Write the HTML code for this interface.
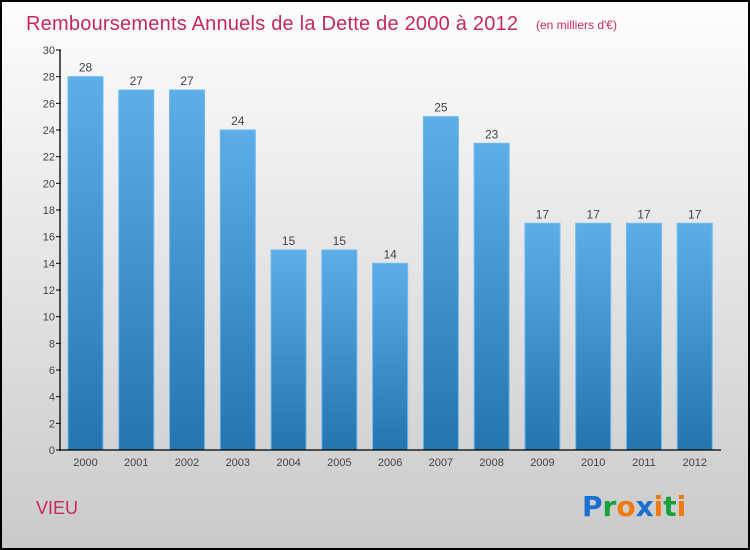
<!DOCTYPE html>
<html><head><meta charset="utf-8"><style>
body{margin:0;width:750px;height:550px;overflow:hidden}
svg{display:block;font-family:"Liberation Sans",sans-serif}
</style></head><body>
<svg id="c" width="750" height="550">
<defs>
<linearGradient id="bg" x1="0" y1="0" x2="0" y2="1"><stop offset="0" stop-color="#fdfdfd"/><stop offset="1" stop-color="#cacaca"/></linearGradient>
<linearGradient id="bar" x1="0" y1="0" x2="0" y2="1"><stop offset="0" stop-color="#5daee8"/><stop offset="1" stop-color="#2574b0"/></linearGradient>
</defs>
<rect x="1" y="1" width="748" height="548" fill="url(#bg)" stroke="#000" stroke-width="2"/>
<text x="26" y="30" font-size="20" fill="#c8285a" textLength="492">Remboursements Annuels de la Dette de 2000 à 2012</text>
<text x="536" y="29" font-size="12" fill="#c8285a">(en milliers d'€)</text>
<text x="36" y="514" font-size="18" fill="#c8285a">VIEU</text>
<g font-size="28" font-weight="bold" font-family="'DejaVu Sans',sans-serif">
<text x="582" y="516"><tspan fill="#1a6fd0">P</tspan><tspan fill="#1aa03a">r</tspan><tspan fill="#f07a10">o</tspan><tspan fill="#1a6fd0">x</tspan><tspan fill="#f07a10">i</tspan><tspan fill="#1aa03a">t</tspan><tspan fill="#f07a10">i</tspan></text>
</g>
<g id="plot"></g>
</svg>
<script>
const years=["2000","2001","2002","2003","2004","2005","2006","2007","2008","2009","2010","2011","2012"];
const values=[28,27,27,24,15,15,14,25,23,17,17,17,17];
const yTicks=[0,2,4,6,8,10,12,14,16,18,20,22,24,26,28,30];
const NS="http://www.w3.org/2000/svg";
const g=document.getElementById('plot');
const x0=62,pitch=50.77,y0=450,yMax=30,h=400;
const y=v=>y0-v/yMax*h;
const bx=i=>x0+6+i*pitch;
function el(t,a){const e=document.createElementNS(NS,t);for(const k in a)e.setAttribute(k,a[k]);g.appendChild(e);return e;}
values.forEach((v,i)=>{
 const r=el('rect',{x:bx(i),y:y(v),width:35,height:y0-y(v),fill:'url(#bar)',stroke:'#6bbaf0','stroke-width':1});
 
 
 const t=el('text',{x:bx(i)+17.5,y:y(v)-5,'text-anchor':'middle','font-size':12,fill:'#444'});
 t.textContent=v;
 
 
 const xl=el('text',{x:bx(i)+17.5,y:466,'text-anchor':'middle','font-size':11,fill:'#444'});
 xl.textContent=years[i];
 
 
});
yTicks.forEach(v=>{
 const l=el('line',{x1:56,x2:61,y1:y(v),y2:y(v),stroke:'#000'});
 
 
 const t=el('text',{x:55,y:y(v)+4,'text-anchor':'end','font-size':11,fill:'#444'});
 t.textContent=v;
 
 
});
const ya=el('line',{x1:60,x2:60,y1:50,y2:451,stroke:'#000','stroke-width':1.3});


const xa=el('line',{x1:59,x2:721,y1:450,y2:450,stroke:'#000','stroke-width':1.3});


</script>
</body></html>
